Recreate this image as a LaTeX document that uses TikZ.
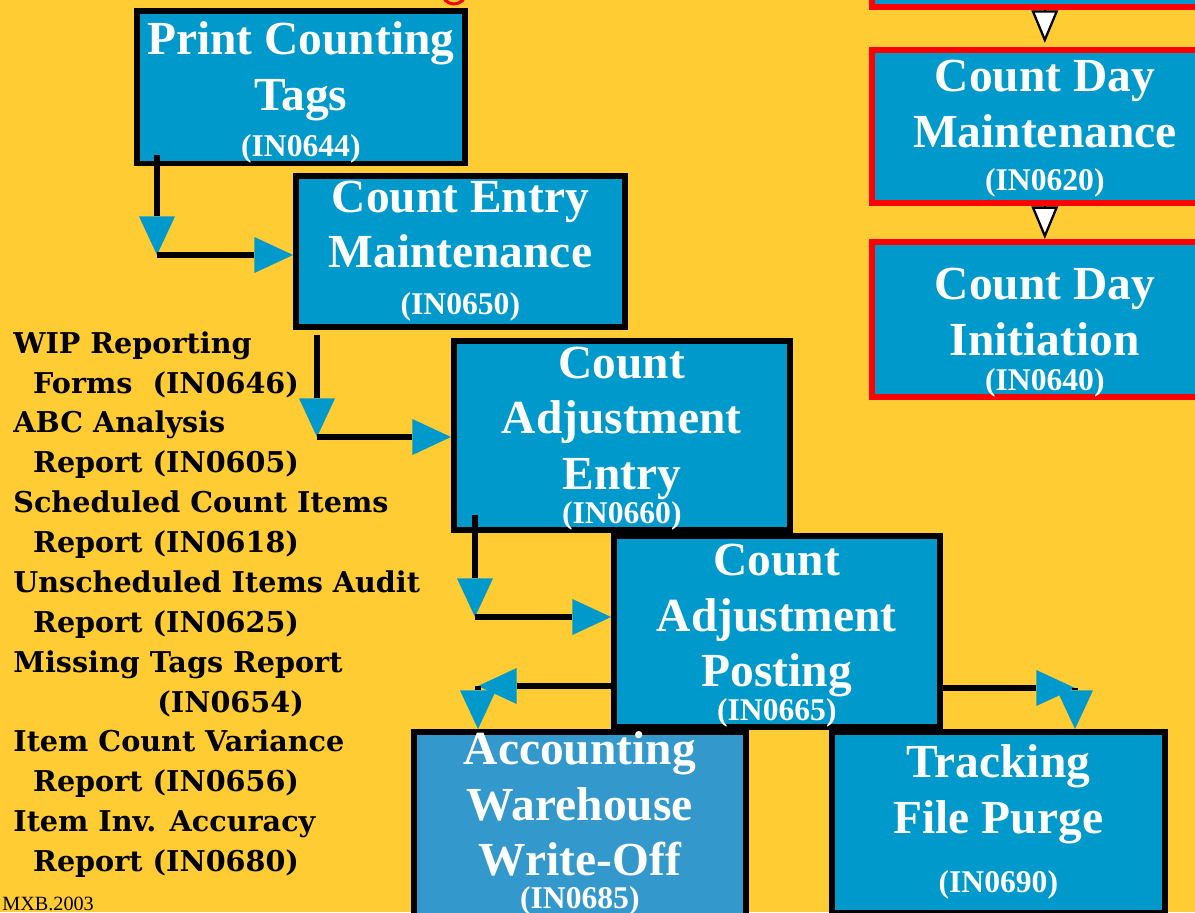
\documentclass[tikz,border=0pt]{standalone}
\usepackage{fontspec}
\setmainfont{Liberation Serif}
\newfontfamily\reportfont{DejaVu Serif}
\usetikzlibrary{arrows.meta,positioning}

\newdimen\pxu \pxu=0.02cm
\definecolor{bgyellow}{RGB}{255,204,51}
\definecolor{boxblue}{RGB}{0,153,204}
\definecolor{boxblue2}{RGB}{51,153,204}
\newcommand{\codefont}{\fontsize{18}{31.5}\selectfont}
\newcommand{\boxtop}[1]{\rule{0pt}{#1}}
\newcommand{\boxbottom}[1]{\rule[-#1]{0pt}{0pt}}

\begin{document}
\begin{tikzpicture}[x=0.02cm, y=-0.02cm,
    prog/.style={rectangle, draw=black, line width=3.2pt, fill=boxblue, text=white, anchor=north west,
        align=center, inner sep=0pt, font=\bfseries\fontsize{27}{31.5}\selectfont},
    dayprog/.style={prog, draw=red},
    conn/.style={line width=3pt, -{Triangle[length=22pt, width=20.5pt, color=boxblue, line width=0pt]}},
    link/.style={line width=1.3pt, -{Triangle[length=18.5pt, width=15pt, fill=white]}}
]
    \useasboundingbox (0,0) rectangle (1195,912);
    \fill[bgyellow] (0,0) rectangle (1195,912);
    \draw[red, line width=1.7pt] (454,-8) circle (0.24cm);

    % counting programs
    \node[prog, minimum width=328\pxu, minimum height=151\pxu] (tags) at (134,8)
        {\boxtop{25pt}Print Counting\\Tags\\[-4.9pt]\codefont (IN0644)};
    \node[prog, minimum width=329\pxu, minimum height=151\pxu] (entry) at (293,173)
        {Count Entry\\Maintenance\\[-4.9pt]\codefont (IN0650)};
    \node[prog, minimum width=336\pxu, minimum height=179\pxu] (adjentry) at (451,338)
        {\boxtop{21.5pt}Count\\Adjustment\\Entry\\[-12.3pt]\codefont (IN0660)};
    \node[prog, minimum width=326\pxu, minimum height=181\pxu] (posting) at (611,533)
        {\boxtop{22.8pt}Count\\Adjustment\\Posting\\[-12.2pt]\codefont (IN0665)};
    \node[prog, fill=boxblue2, minimum width=332\pxu, minimum height=181\pxu] (writeoff) at (411,729)
        {Accounting\\Warehouse\\Write-Off\\[-12.8pt]\codefont (IN0685)\boxbottom{9pt}};
    \node[prog, minimum width=333\pxu, minimum height=181\pxu] (purge) at (829,729)
        {Tracking\\File Purge\\[2.5pt]\codefont (IN0690)};

    % count day programs
    \node[dayprog, minimum width=346\pxu, minimum height=154\pxu] (setup) at (869,-150) {};
    \node[dayprog, minimum width=346\pxu, minimum height=153\pxu] (cdm) at (869,47)
        {\boxtop{20.5pt}Count Day\\Maintenance\\[-7.1pt]\codefont (IN0620)};
    \node[dayprog, minimum width=346\pxu, minimum height=152\pxu] (cdi) at (869,239)
        {\boxtop{33pt}Count Day\\Initiation\\[-11.5pt]\codefont (IN0640)};

    % reports
    \node[anchor=north west, inner sep=0pt, align=left,
        font=\reportfont\bfseries\fontsize{16.3}{22.7}\selectfont] (reports) at (13,331)
        {WIP Reporting\\
         \hspace*{11.3pt}Forms\ \ (IN0646)\\
         ABC Analysis\\
         \hspace*{11.3pt}Report (IN0605)\\
         Scheduled Count Items\\
         \hspace*{11.3pt}Report (IN0618)\\
         Unscheduled Items Audit\\
         \hspace*{11.3pt}Report (IN0625)\\
         Missing Tags Report\\
         \hspace*{82pt}(IN0654)\\
         Item Count Variance\\
         \hspace*{11.3pt}Report (IN0656)\\
         Item Inv. Accuracy\\
         \hspace*{11.3pt}Report (IN0680)};
    \node[anchor=base west, inner sep=0pt, font=\fontsize{11.5}{12}\selectfont] (mark) at (2,910) {MXB.2003};

    % connectors
    \coordinate (tagsout) at (157,155);
    \coordinate (tagsbend) at (157,255);
    \coordinate (entryout) at (317,335);
    \coordinate (entrybend) at (317,437);
    \coordinate (adjout) at (475,515);
    \coordinate (adjbend) at (475,617);
    \coordinate (postleft) at (478,686);
    \coordinate (postright) at (1075,688);

    \draw[conn] (tagsout) -- (tagsbend);
    \draw[conn] (tagsbend) -- (tagsbend -| entry.west);
    \draw[conn] (entryout) -- (entrybend);
    \draw[conn] (entrybend) -- (entrybend -| adjentry.west);
    \draw[conn] (adjout) -- (adjbend);
    \draw[conn] (adjbend) -- (adjbend -| posting.west);
    \draw[conn] (postleft -| posting.west) -- (postleft);
    \draw[conn] (postleft) -- (postleft |- writeoff.north);
    \draw[conn] (postright -| posting.east) -- (postright);
    \draw[conn] (postright) -- (postright |- purge.north);

    \draw[link, shorten >=2.3pt] (setup) -- (cdm);
    \draw[link] (cdm) -- (cdi);
\end{tikzpicture}
\end{document}
